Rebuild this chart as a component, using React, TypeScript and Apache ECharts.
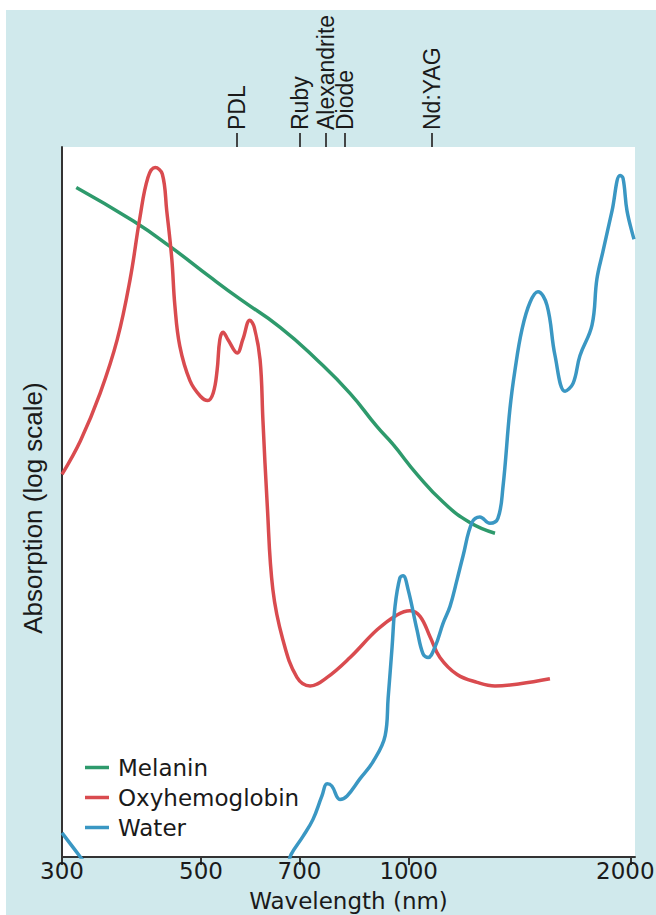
import React, { useEffect, useRef } from "react";
import * as echarts from "echarts";

// ---- Axis ticks and laser markers (nm) ----
const tickWavelengths = [300, 500, 700, 1000, 2000];
const tickLabels = ["300", "500", "700", "1000", "2000"];
const laserWavelengths = [566, 701, 764, 814, 1077];
const laserNames = ["PDL", "Ruby", "Alexandrite", "Diode", "Nd:YAG"];
const axisMinNm = 300;
const axisMaxNm = 2029;

// ---- Melanin (relative log absorption, 0-100) ----
const melaninWl = [317, 392, 448, 516, 572, 656, 742, 827, 903, 951, 1027, 1116, 1215, 1315];
const melaninAbs = [94.3, 89.6, 86.0, 81.7, 78.6, 74.6, 70.0, 65.3, 60.6, 58.1, 53.9, 50.0, 47.1, 45.6];

// ---- Oxyhemoglobin ----
const oxyWl = [
  300, 322, 347, 370, 388, 402, 414, 425, 436, 443, 451, 456, 464, 481, 499, 512, 522, 529, 534, 540,
  549, 567, 578, 592, 601, 613, 619, 628, 640, 662, 694, 725, 767, 827, 903, 963, 1004, 1037, 1071,
  1105, 1167, 1243, 1315, 1422, 1561,
];
const oxyAbs = [
  53.9, 58.6, 65.3, 72.9, 81.4, 90.0, 95.7, 97.1, 96.2, 91.0, 84.3, 77.7, 72.0, 67.1, 64.9, 64.3, 65.4,
  68.6, 72.9, 73.9, 72.9, 71.0, 72.9, 75.6, 74.6, 70.0, 61.4, 49.6, 37.7, 30.6, 25.3, 24.1, 25.3, 28.1,
  32.0, 34.1, 34.7, 33.9, 31.0, 28.1, 25.7, 24.6, 24.1, 24.4, 25.1,
];

// ---- Water (null = off the bottom of the chart) ----
const waterWl = [
  300, 322, 328, 500, 676, 680, 708, 732, 754, 767, 779, 800, 819, 854, 891, 927, 936, 948, 957, 972,
  982, 998, 1027, 1047, 1064, 1088, 1116, 1141, 1167, 1189, 1223, 1254, 1294, 1327, 1348, 1378, 1400,
  1431, 1467, 1504, 1547, 1586, 1636, 1677, 1713, 1778, 1805, 1839, 1891, 1938, 1956, 1980, 2023,
];
const waterAbs: (number | null)[] = [
  3.4, 0, -0.9, null, -0.9, 0.3, 2.9, 5.3, 8.6, 10.3, 10.0, 8.1, 8.6, 11.0, 13.4, 17.1, 22.4, 29.6, 35.3,
  39.3, 39.6, 37.7, 32.0, 28.6, 28.1, 29.6, 32.9, 35.3, 39.1, 42.4, 47.1, 47.9, 47.0, 47.7, 52.0, 63.1,
  68.6, 74.3, 78.1, 79.6, 77.7, 70.6, 65.6, 66.7, 70.6, 74.9, 81.4, 85.3, 91.0, 96.0, 95.6, 91.0, 87.0,
];

// The reference's wavelength axis is a compressed logarithmic scale;
// log10(nm + 100) reproduces its tick spacing.
const xPos = (nm: number) => Math.log10(nm + 100);

const textColor = "#1a1a1a";
const axisColor = "#333333";
const hFont = "DejaVu Sans";
const vFont = "Liberation Sans";

function indexOf(values: number[], v: number) {
  return values.findIndex((w) => Math.abs(xPos(w) - v) < 1e-6);
}

export default function App() {
  const ref = useRef<HTMLDivElement>(null);

  useEffect(() => {
    if (!ref.current) return;
    const chart = echarts.init(ref.current, null, { renderer: "svg" });

    const lineCommon = {
      type: "line",
      showSymbol: false,
      symbol: "none",
      smooth: 0.4,
      clip: true,
      connectNulls: false,
    };

    chart.setOption({
      animation: false,
      backgroundColor: "#d0e9ec",
      grid: {
        left: 56,
        right: 21,
        top: 137,
        bottom: 58,
        show: true,
        backgroundColor: "#ffffff",
        borderWidth: 0,
        containLabel: false,
        outerBoundsMode: "none",
      },
      legend: {
        orient: "vertical",
        left: 79,
        top: 746,
        padding: 0,
        itemGap: 7,
        icon: "rect",
        itemWidth: 24,
        itemHeight: 3.5,
        data: ["Melanin", "Oxyhemoglobin", "Water"],
        textStyle: {
          fontFamily: hFont,
          fontSize: 23,
          color: textColor,
          padding: [0, 0, 0, 4],
        },
      },
      xAxis: [
        {
          type: "value",
          position: "bottom",
          min: xPos(axisMinNm),
          max: xPos(axisMaxNm),
          name: "Wavelength (nm)",
          nameLocation: "middle",
          nameGap: 32,
          nameTextStyle: { fontFamily: hFont, fontSize: 23, color: textColor },
          axisLine: { show: true, lineStyle: { color: axisColor, width: 2 } },
          axisTick: {
            show: true,
            length: 8,
            customValues: tickWavelengths.map(xPos),
            lineStyle: { color: axisColor, width: 2 },
          },
          axisLabel: {
            show: true,
            margin: 2,
            customValues: tickWavelengths.map(xPos),
            formatter: (v: number) => {
              const i = indexOf(tickWavelengths, v);
              if (i < 0) return "";
              return i === tickWavelengths.length - 1 ? `{last|${tickLabels[i]}}` : tickLabels[i];
            },
            rich: {
              last: {
                fontFamily: hFont,
                fontSize: 23,
                color: textColor,
                padding: [0, 10, 0, 0],
              },
            },
            fontFamily: hFont,
            fontSize: 23,
            color: textColor,
          },
          splitLine: { show: false },
        },
        {
          type: "value",
          position: "top",
          min: xPos(axisMinNm),
          max: xPos(axisMaxNm),
          axisLine: { show: false },
          axisTick: {
            show: true,
            length: 14,
            customValues: laserWavelengths.map(xPos),
            lineStyle: { color: axisColor, width: 1.8 },
          },
          axisLabel: {
            show: true,
            rotate: -90,
            margin: 17,
            customValues: laserWavelengths.map(xPos),
            formatter: (v: number) => {
              const i = indexOf(laserWavelengths, v);
              return i >= 0 ? laserNames[i] : "";
            },
            fontFamily: vFont,
            fontSize: 23,
            color: textColor,
          },
          splitLine: { show: false },
        },
      ],
      yAxis: {
        type: "value",
        min: 0,
        max: 100,
        name: "Absorption (log scale)",
        nameLocation: "middle",
        nameRotate: 90,
        nameGap: 16,
        nameTextStyle: {
          fontFamily: vFont,
          fontSize: 26,
          color: textColor,
          padding: [0, 12, 0, 0],
        },
        axisLine: { show: true, lineStyle: { color: axisColor, width: 2 } },
        axisTick: { show: false },
        axisLabel: { show: false },
        splitLine: { show: false },
      },
      series: [
        {
          ...lineCommon,
          name: "Melanin",
          color: "#2e9a6c",
          smooth: 0.5,
          lineStyle: { width: 3.5, color: "#2e9a6c" },
          data: melaninWl.map((w, i) => [xPos(w), melaninAbs[i]]),
        },
        {
          ...lineCommon,
          name: "Oxyhemoglobin",
          color: "#d94b4f",
          lineStyle: { width: 3.5, color: "#d94b4f" },
          data: oxyWl.map((w, i) => [xPos(w), oxyAbs[i]]),
        },
        {
          ...lineCommon,
          name: "Water",
          color: "#3a97c3",
          lineStyle: { width: 3.5, color: "#3a97c3" },
          data: waterWl.map((w, i) => [xPos(w), waterAbs[i] === null ? "-" : waterAbs[i]]),
        },
      ],
    });

    return () => chart.dispose();
  }, []);

  return (
    <div style={{ position: "fixed", left: 0, top: 0, width: 656, height: 915, background: "#ffffff" }}>
      <div ref={ref} style={{ position: "absolute", left: 6, top: 10, width: 650, height: 905 }} />
    </div>
  );
}
